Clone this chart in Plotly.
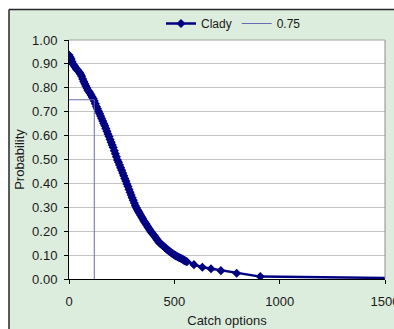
import plotly.graph_objects as go

# Probability of the stock staying above the reference level for each catch option (Clady)
catch_clady = [0, 5, 10, 15, 20, 25, 30, 35, 40, 45, 50, 55, 60, 65, 70, 75, 80, 85, 90, 95,
               100, 105, 110, 115, 120, 125, 130, 135, 140, 145, 150, 155, 160, 165, 170,
               175, 180, 185, 190, 195, 200, 205, 210, 215, 220, 225, 230, 235, 240, 245,
               250, 255, 260, 265, 270, 275, 280, 285, 290, 295, 300, 305, 310, 315, 320,
               325, 330, 335, 340, 345, 350, 355, 360, 365, 370, 375, 380, 385, 390, 395,
               400, 405, 410, 415, 420, 425, 430, 435, 440, 445, 450, 455, 460, 465, 470,
               475, 480, 485, 490, 495, 500, 505, 510, 515, 520, 525, 530, 535, 540, 545,
               550, 555, 560,
               593, 633, 674, 721, 796, 908, 1550]
prob_clady = [0.937, 0.929, 0.921, 0.909, 0.899, 0.892, 0.886, 0.879, 0.874, 0.869,
              0.864, 0.857, 0.848, 0.837, 0.826, 0.817, 0.808, 0.799, 0.790, 0.784,
              0.777, 0.770, 0.762, 0.754, 0.745, 0.733, 0.722, 0.712, 0.702, 0.692,
              0.682, 0.672, 0.661, 0.651, 0.641, 0.630, 0.618, 0.607, 0.596, 0.584,
              0.572, 0.561, 0.550, 0.537, 0.524, 0.511, 0.498, 0.488, 0.477, 0.466,
              0.455, 0.443, 0.432, 0.421, 0.410, 0.398, 0.387, 0.375, 0.363, 0.351,
              0.340, 0.329, 0.318, 0.307, 0.298, 0.290, 0.282, 0.275, 0.267, 0.259,
              0.252, 0.244, 0.237, 0.231, 0.224, 0.217, 0.210, 0.203, 0.197, 0.191,
              0.186, 0.181, 0.175, 0.168, 0.162, 0.156, 0.151, 0.148, 0.144, 0.140,
              0.136, 0.132, 0.128, 0.124, 0.121, 0.117, 0.114, 0.110, 0.107, 0.104,
              0.101, 0.098, 0.096, 0.093, 0.091, 0.089, 0.087, 0.085, 0.082, 0.079,
              0.077, 0.074, 0.072,
              0.060, 0.049, 0.043, 0.035, 0.024, 0.010, 0.004]

# 0.75 probability guide: across to the curve, then down to the catch axis
guide_x = [0, 120, 120]
guide_y = [0.75, 0.75, 0.0]

x_ticks = [0, 500, 1000, 1500]
y_ticks = [0.0, 0.1, 0.2, 0.3, 0.4, 0.5, 0.6, 0.7, 0.8, 0.9, 1.0]

W, H = 394, 329
L, R, T, B = 69, 9, 40, 50
pw, ph = W - L - R, H - T - B


def px_x(p):
    return (p - L) / pw


def px_y(p):
    return (H - B - p) / ph


FONT = "Liberation Sans, Arial, sans-serif"
GREEN = "#ddeddd"
NAVY = "#000080"

fig = go.Figure()
fig.add_trace(go.Scatter(
    x=catch_clady, y=prob_clady, name="Clady", mode="lines+markers",
    line=dict(color=NAVY, width=2.5),
    marker=dict(symbol="diamond", size=7, color=NAVY),
))
fig.add_trace(go.Scatter(
    x=guide_x, y=guide_y, name="0.75", mode="lines",
    line=dict(color="#6a6ab4", width=1),
))

shapes = [
    # white margin outside the chart frame
    dict(type="rect", xref="paper", yref="paper", x0=px_x(-5), x1=px_x(W + 5),
         y0=px_y(9), y1=px_y(-5), fillcolor="white", line=dict(width=0), layer="below"),
    dict(type="rect", xref="paper", yref="paper", x0=px_x(-5), x1=px_x(9),
         y0=px_y(H + 5), y1=px_y(-5), fillcolor="white", line=dict(width=0), layer="below"),
    # chart frame
    dict(type="line", xref="paper", yref="paper", x0=px_x(9), x1=px_x(W + 5),
         y0=px_y(9.5), y1=px_y(9.5), line=dict(color="#262626", width=1.5)),
    dict(type="line", xref="paper", yref="paper", x0=px_x(9), x1=px_x(9),
         y0=px_y(9.5), y1=px_y(H + 5), line=dict(color="#262626", width=1.5)),
    # plot area border on the right and top
    dict(type="line", xref="paper", yref="paper", x0=1, x1=1, y0=0, y1=1,
         line=dict(color="#8c8c8c", width=1)),
    dict(type="line", xref="paper", yref="paper", x0=0, x1=1, y0=1, y1=1,
         line=dict(color="#a0a0a0", width=1)),
]

fig.update_layout(
    width=W, height=H,
    margin=dict(l=L, r=R, t=T, b=B, autoexpand=False),
    paper_bgcolor=GREEN, plot_bgcolor="white",
    font=dict(family=FONT, size=13, color="#1a1a1a"),
    shapes=shapes,
    showlegend=True,
    legend=dict(orientation="h", x=px_x(161), y=px_y(9), xanchor="left", yanchor="top",
                bgcolor="rgba(0,0,0,0)", font=dict(size=12), itemwidth=30,
                tracegroupgap=0),
    xaxis=dict(range=[0, 1500], tickvals=x_ticks, ticktext=[str(v) for v in x_ticks],
               showgrid=False, zeroline=False, showline=True, linecolor="black",
               linewidth=1, ticks="outside", ticklen=4, tickcolor="black",
               ticklabelstandoff=6, ticklabeloverflow="allow", automargin=False,
               title=dict(text="Catch options", font=dict(size=13), standoff=8)),
    yaxis=dict(range=[0, 1], tickvals=y_ticks, tickformat=".2f",
               showgrid=True, gridcolor="#c4c4c4", gridwidth=1,
               zeroline=False, showline=True, linecolor="black",
               linewidth=1, ticks="outside", ticklen=4, tickcolor="black",
               ticklabelstandoff=4, automargin=False,
               title=dict(text="Probability", font=dict(size=13), standoff=4)),
)

fig.write_html("out.html")
